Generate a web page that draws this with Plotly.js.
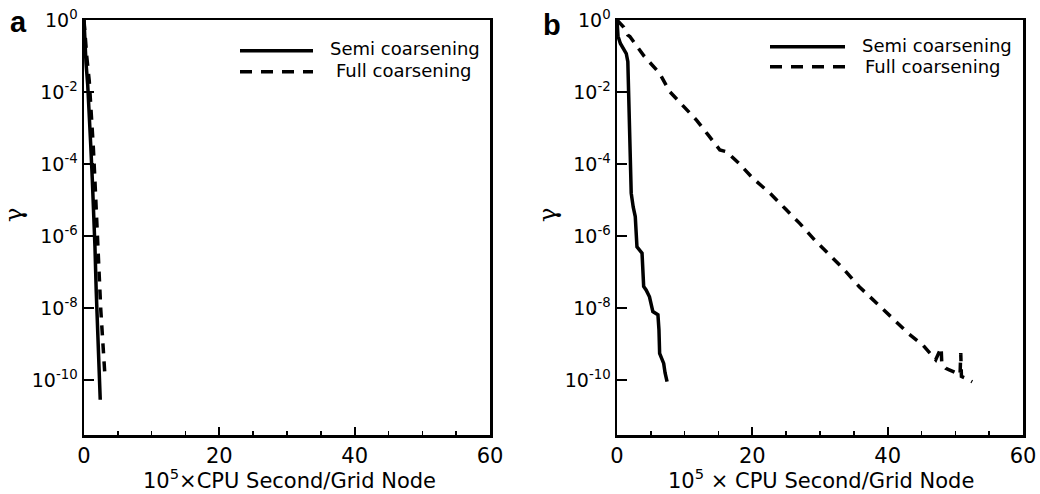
<!DOCTYPE html>
<html>
<head>
<meta charset="utf-8">
<script src="https://cdn.plot.ly/plotly-3.0.1.min.js"></script>
<style>html,body{margin:0;padding:0;background:#fff;}#chart{width:1040px;height:494px;}</style>
</head>
<body>
<div id="chart"></div>
<script>
// ---- Data (x: 10^5 x CPU second / grid node, y given as log10(gamma)) ----
// Panel a
var semiA_x    = [0, 0.12, 0.3, 0.55, 0.8, 1.0, 1.22, 1.45, 1.62, 1.8, 2.0, 2.2, 2.4];
var semiA_log  = [0, -0.6, -1.2, -1.8, -2.6, -3.5, -4.4, -5.4, -6.3, -7.5, -8.6, -9.6, -10.55];
var fullA_x    = [0, 0.15, 0.4, 0.78, 1.1, 1.38, 1.6, 1.77, 2.0, 2.25, 2.48, 2.7, 2.9, 3.1];
var fullA_log  = [0, -0.5, -1.0, -1.7, -2.6, -3.55, -4.4, -5.28, -6.2, -7.1, -8.05, -8.7, -9.3, -9.9];
// Panel b
var semiB_x    = [0, 0.05, 0.15, 0.5, 1.0, 1.37, 1.6, 1.7, 1.8, 1.95, 2.1, 2.4, 2.7, 2.95, 3.3, 3.7, 3.94, 4.3, 4.8, 5.3, 6.05, 6.2, 6.3, 6.9, 7.1, 7.4];
var semiB_log  = [0, -0.1, -0.45, -0.65, -0.8, -0.93, -1.16, -2.0, -3.15, -4.0, -4.81, -5.2, -5.46, -6.3, -6.4, -6.48, -7.4, -7.5, -7.69, -8.1, -8.19, -8.6, -9.26, -9.54, -9.8, -10.05];
var fullB_x    = [0, 0.4, 1.0, 1.6, 1.9, 4.0, 6.3, 7.8, 9.8, 11.75, 13.5, 15.2, 16.2, 18.0, 20.1, 22.6, 24.8, 27.0, 29.2, 31.4, 33.6, 35.8, 38.3, 40.75, 43.0, 45.2, 47.1, 47.9, 48.0, 48.6, 49.1, 50.7, 50.8, 50.9, 51.5, 52.5];
var fullB_log  = [0, -0.08, -0.2, -0.42, -0.46, -1.0, -1.48, -1.99, -2.4, -2.78, -3.2, -3.61, -3.66, -3.98, -4.4, -4.81, -5.23, -5.65, -6.11, -6.53, -6.94, -7.41, -7.87, -8.29, -8.7, -9.03, -9.44, -9.1, -9.55, -9.68, -9.72, -9.85, -9.25, -9.9, -9.95, -10.05];

// Axis ticks
var yTickVals = [1, 1e-2, 1e-4, 1e-6, 1e-8, 1e-10];
var yTickText = ['10<sup>0</sup>', '10<sup>-2</sup>', '10<sup>-4</sup>', '10<sup>-6</sup>', '10<sup>-8</sup>', '10<sup>-10</sup>'];
var seriesNames = ['Semi coarsening', 'Full coarsening'];
var xTitleA = '10<sup>5</sup>×CPU Second/Grid Node';
var xTitleB = '10<sup>5</sup> × CPU Second/Grid Node';
var yTitle = 'γ';

function pow10(arr){ return arr.map(function(v){ return Math.pow(10, v); }); }

var W = 1040, H = 494;
function px(x){ return x / W; }
function py(y){ return 1 - y / H; }

var solidLine = {color: '#000', width: 3.5};
var dashLine = {color: '#000', width: 3.5, dash: '10px,8px'};

var traces = [
  {x: semiA_x, y: pow10(semiA_log), name: seriesNames[0], mode: 'lines', line: solidLine, xaxis: 'x', yaxis: 'y', showlegend: false},
  {x: fullA_x, y: pow10(fullA_log), name: seriesNames[1], mode: 'lines', line: dashLine, xaxis: 'x', yaxis: 'y', showlegend: false},
  {x: semiB_x, y: pow10(semiB_log), name: seriesNames[0], mode: 'lines', line: solidLine, xaxis: 'x2', yaxis: 'y2', showlegend: false},
  {x: fullB_x, y: pow10(fullB_log), name: seriesNames[1], mode: 'lines', line: dashLine, xaxis: 'x2', yaxis: 'y2', showlegend: false}
];

var tickFontX = {family: 'DejaVu Sans', size: 21, color: '#000'};
var tickFontY = {family: 'DejaVu Sans', size: 19, color: '#000'};

function xAxis(domain, anchor){
  return {
    domain: domain, anchor: anchor, range: [0, 60],
    tickmode: 'linear', tick0: 0, dtick: 20,
    ticks: 'inside', ticklen: 8, tickwidth: 2, tickcolor: '#000',
    minor: {tickmode: 'linear', tick0: 0, dtick: 5, ticks: 'inside', ticklen: 4, tickwidth: 1.5, tickcolor: '#000'},
    showline: true, linewidth: 2.5, linecolor: '#000', mirror: true,
    showgrid: false, zeroline: false, tickfont: tickFontX, ticklabelstandoff: 0
  };
}
function yAxis(domain, anchor){
  return {
    domain: domain, anchor: anchor, type: 'log', range: [-11.53, 0.001],
    tickmode: 'array', tickvals: yTickVals, ticktext: yTickText,
    ticks: 'inside', ticklen: 10, tickwidth: 2, tickcolor: '#000',
    showline: true, linewidth: 2.5, linecolor: '#000', mirror: true,
    showgrid: false, zeroline: false, tickfont: tickFontY
  };
}

var yDom = [py(435), py(20)];
var legFont = {family: 'DejaVu Sans', size: 18, color: '#000'};
var titleFont = {family: 'DejaVu Sans', size: 21, color: '#000'};
var gammaFont = {family: 'DejaVu Serif', size: 24, color: '#000'};

var layout = {
  width: W, height: H,
  margin: {l: 0, r: 0, t: 0, b: 0},
  paper_bgcolor: '#fff', plot_bgcolor: '#fff',
  showlegend: false,
  xaxis: xAxis([px(84), px(490)], 'y'),
  yaxis: yAxis(yDom, 'x'),
  xaxis2: xAxis([px(617), px(1023)], 'y2'),
  yaxis2: yAxis(yDom, 'x2'),
  shapes: [
    {type: 'line', xref: 'paper', yref: 'paper', x0: px(240), x1: px(313), y0: py(50.7), y1: py(50.7), line: {color: '#000', width: 3.5}},
    {type: 'line', xref: 'paper', yref: 'paper', x0: px(240), x1: px(313), y0: py(71.7), y1: py(71.7), line: {color: '#000', width: 3.5, dash: '12px,9px'}},
    {type: 'line', xref: 'paper', yref: 'paper', x0: px(770), x1: px(845), y0: py(46.7), y1: py(46.7), line: {color: '#000', width: 3.5}},
    {type: 'line', xref: 'paper', yref: 'paper', x0: px(770), x1: px(845), y0: py(66.7), y1: py(66.7), line: {color: '#000', width: 3.5, dash: '12px,9px'}}
  ],
  annotations: [
    {text: seriesNames[0], xref: 'paper', yref: 'paper', x: px(328), y: py(49), xanchor: 'left', yanchor: 'middle', showarrow: false, font: legFont},
    {text: seriesNames[1], xref: 'paper', yref: 'paper', x: px(334), y: py(71), xanchor: 'left', yanchor: 'middle', showarrow: false, font: legFont},
    {text: seriesNames[0], xref: 'paper', yref: 'paper', x: px(860), y: py(45), xanchor: 'left', yanchor: 'middle', showarrow: false, font: legFont},
    {text: seriesNames[1], xref: 'paper', yref: 'paper', x: px(863), y: py(66), xanchor: 'left', yanchor: 'middle', showarrow: false, font: legFont},
    {text: xTitleA, xref: 'paper', yref: 'paper', x: px(289), y: py(479), xanchor: 'center', yanchor: 'middle', showarrow: false, font: titleFont},
    {text: xTitleB, xref: 'paper', yref: 'paper', x: px(821), y: py(479), xanchor: 'center', yanchor: 'middle', showarrow: false, font: titleFont},
    {text: yTitle, xref: 'paper', yref: 'paper', x: px(14), y: py(215), xanchor: 'center', yanchor: 'middle', textangle: -90, showarrow: false, font: gammaFont},
    {text: yTitle, xref: 'paper', yref: 'paper', x: px(548), y: py(215), xanchor: 'center', yanchor: 'middle', textangle: -90, showarrow: false, font: gammaFont},
    {text: '<b>a</b>', xref: 'paper', yref: 'paper', x: px(8), y: py(22), xanchor: 'left', yanchor: 'middle', showarrow: false, font: {family: 'Liberation Sans', size: 29, color: '#000'}},
    {text: '<b>b</b>', xref: 'paper', yref: 'paper', x: px(541), y: py(25), xanchor: 'left', yanchor: 'middle', showarrow: false, font: {family: 'Liberation Sans', size: 29, color: '#000'}}
  ]
};

Plotly.newPlot('chart', traces, layout, {staticPlot: true, displayModeBar: false});
</script>
</body>
</html>
